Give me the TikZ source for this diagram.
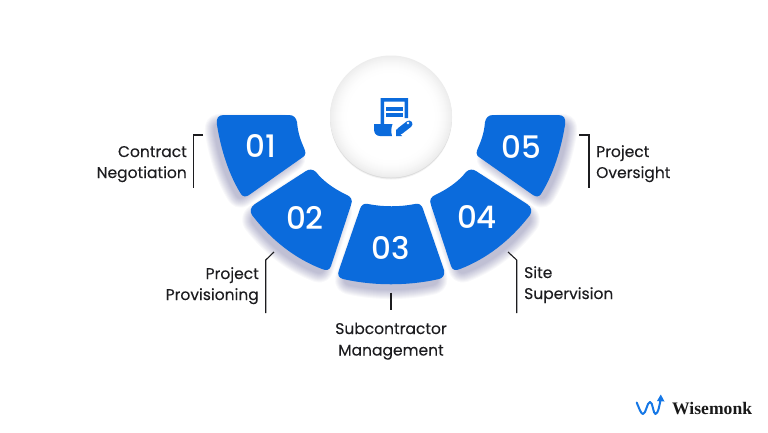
\documentclass[tikz,border=0pt]{standalone}
\usepackage{fontspec}
\setmainfont{Poppins}[FakeBold=0.15]
\newfontfamily\numfont{Poppins Medium}
\newfontfamily\logofont{Liberation Serif}[BoldFont={Liberation Serif Bold}]
\usetikzlibrary{arrows.meta}
\definecolor{wmblue}{HTML}{0B6BDC}
\definecolor{wmlogo}{HTML}{1577E6}
\definecolor{wmink}{HTML}{1C1C1F}
\definecolor{wmshadow}{HTML}{3A3A80}
\tikzset{
  sector/.style={fill=wmblue},
  soft/.style={fill=wmshadow,draw=wmshadow,line join=round},
  digit/.style={text=white,font=\numfont\fontsize{31}{31}\selectfont,anchor=base},
  label/.style={text=wmink,font=\fontsize{15.5}{21}\selectfont,anchor=base,inner sep=0pt},
  leader/.style={draw=wmink,line width=1.1pt},
  mirrored/.style={xshift=782pt,xscale=-1},
}
\newcommand\secA{(224,115) -- (289,115) .. controls (294,115) and (296,118) .. (297,122)
  .. controls (298,134) and (301,141) .. (304,148) .. controls (306,152) and (306,155) .. (303,157)
  -- (249,195) .. controls (246,197) and (243,197) .. (241,194)
  .. controls (229,175) and (221,150) .. (217,125) .. controls (216,118) and (218,115) .. (224,115) -- cycle}
\newcommand\secB{(255,204) -- (306,171) .. controls (309,169) and (313,169) .. (316,172)
  .. controls (323,181) and (334,189) .. (347,195) .. controls (351,197) and (353,200) .. (351,205)
  -- (331,266) .. controls (330,270) and (326,271) .. (322,269)
  .. controls (296,259) and (272,241) .. (252,215) .. controls (250,212) and (250,207) .. (255,204) -- cycle}
\newcommand\secC{(368,204) .. controls (383,207) and (400,207) .. (415,204)
  .. controls (419,203) and (422,205) .. (423,209) -- (444,270)
  .. controls (445,275) and (443,278) .. (439,279) .. controls (408,286) and (374,286) .. (343,279)
  .. controls (339,278) and (337,275) .. (339,270) -- (360,209)
  .. controls (361,205) and (364,203) .. (368,204) -- cycle}
\newcommand\softsec[2]{\begin{scope}[transparency group,opacity=.035]\path[soft,line width=#1 pt] #2;\end{scope}}
\begin{document}
\begin{tikzpicture}[x=1pt,y=-1pt]
\useasboundingbox (0,0) rectangle (768,432);
\fill[white] (0,0) rectangle (768,432);
% shadows
\foreach \w in {1,3,5,7,9,11,13,15,17,19}{
  \begin{scope}[shift={(255,160)},scale=.92,shift={(-261,-155)}]\softsec{\w}{\secA}\end{scope}
  \begin{scope}[shift={(296,228)},scale=.9,shift={(-300,-220)}]\softsec{\w}{\secB}\end{scope}
  \begin{scope}[shift={(391,255)},scale=.88,shift={(-391,-245)}]\softsec{\w}{\secC}\end{scope}
  \begin{scope}[mirrored]
  \begin{scope}[shift={(255,160)},scale=.92,shift={(-261,-155)}]\softsec{\w}{\secA}\end{scope}
  \begin{scope}[shift={(296,228)},scale=.9,shift={(-300,-220)}]\softsec{\w}{\secB}\end{scope}
  \end{scope}
}
% sectors
\fill[sector] \secA; \fill[sector] \secB; \fill[sector] \secC;
\begin{scope}[mirrored]\fill[sector] \secA; \fill[sector] \secB;\end{scope}
% disc
\foreach \o/\a in {2/.05,1/.09}{\fill[black,opacity=\a] (391,{116.5+\o}) circle[radius=61];}
\foreach \r in {61,60,...,42}{
  \pgfmathsetmacro{\p}{7*((\r-42)/19)^2}
  \fill[black!\p!white] (391,116.5) circle[radius=\r];
}
% icon
\fill[wmblue] (380.5,98) -- (408,98) -- (408,118) -- (404.5,118) -- (404.5,101.5) -- (384,101.5) -- (384,125) -- (380.5,125) -- cycle;
\fill[wmblue] (386,107) rectangle (403,111);
\fill[wmblue] (386,113) rectangle (403,117);
\fill[wmblue] (374,124) -- (392.5,124) .. controls (391,128) and (391,132) .. (392,136) -- (380,136) .. controls (376,136) and (374,133) .. (374,129) -- cycle;
\draw[wmblue,line width=7pt,line cap=round] (400,131) -- (409,124);
\fill[wmblue] (396,136) -- (396,129) -- (402,136) -- cycle;
\fill[white] (408,123) circle[radius=1.3];
% digits
\node[digit] (n1) at (261,157.5) {01};
\node[digit] (n2) at (305,229) {02};
\node[digit] (n3) at (391,259) {03};
\node[digit] (n4) at (477,228) {04};
\node[digit] (n5) at (521,158) {05};
% labels
\node[label,anchor=base east] (t1a) at (187,157) {Contract};
\node[label,anchor=base east] (t1b) at (187,178) {Negotiation};
\node[label,anchor=base east] (t2a) at (259,279) {Project};
\node[label,anchor=base east] (t2b) at (259,300) {Provisioning};
\node[label] (t3a) at (391,334) {Subcontractor};
\node[label] (t3b) at (391,355.5) {Management};
\node[label,anchor=base west] (t4a) at (524,278) {Site};
\node[label,anchor=base west] (t4b) at (524,299) {Supervision};
\node[label,anchor=base west] (t5a) at (596,157) {Project};
\node[label,anchor=base west] (t5b) at (596,178) {Oversight};
% leaders
\coordinate (l1a) at (203,135); \coordinate (l1b) at (193.5,135); \coordinate (l1c) at (193.5,187.5);
\coordinate (l2a) at (274,252); \coordinate (l2b) at (265.7,260); \coordinate (l2c) at (265.7,313);
\coordinate (l3a) at (391,292.5); \coordinate (l3b) at (391,309.5);
\coordinate (l4a) at (508,252); \coordinate (l4b) at (516.7,260); \coordinate (l4c) at (516.7,313);
\coordinate (l5a) at (579,135); \coordinate (l5b) at (589,135); \coordinate (l5c) at (589,187.5);
\draw[leader] (l1a) -- (l1b) -- (l1c);
\draw[leader] (l2a) -- (l2b) -- (l2c);
\draw[leader] (l3a) -- (l3b);
\draw[leader] (l4a) -- (l4b) -- (l4c);
\draw[leader] (l5a) -- (l5b) -- (l5c);
% logo
\draw[wmlogo,line width=2pt,line cap=round,line join=round] (636.7,402.5) .. controls (639,408) and (641,414) .. (643,414) .. controls (646,414) and (647,402) .. (650,402) .. controls (653,402) and (653,414) .. (655.5,414) .. controls (658,414) and (660,404) .. (660.7,398);
\fill[wmlogo] (660.8,394.5) -- (664.5,401.5) -- (657,401) -- cycle;
\node[anchor=base west,inner sep=0pt,text=black!90,font=\logofont\bfseries\fontsize{17.6}{18}\selectfont] (logo) at (672,414) {Wisemonk};
\end{tikzpicture}
\end{document}
